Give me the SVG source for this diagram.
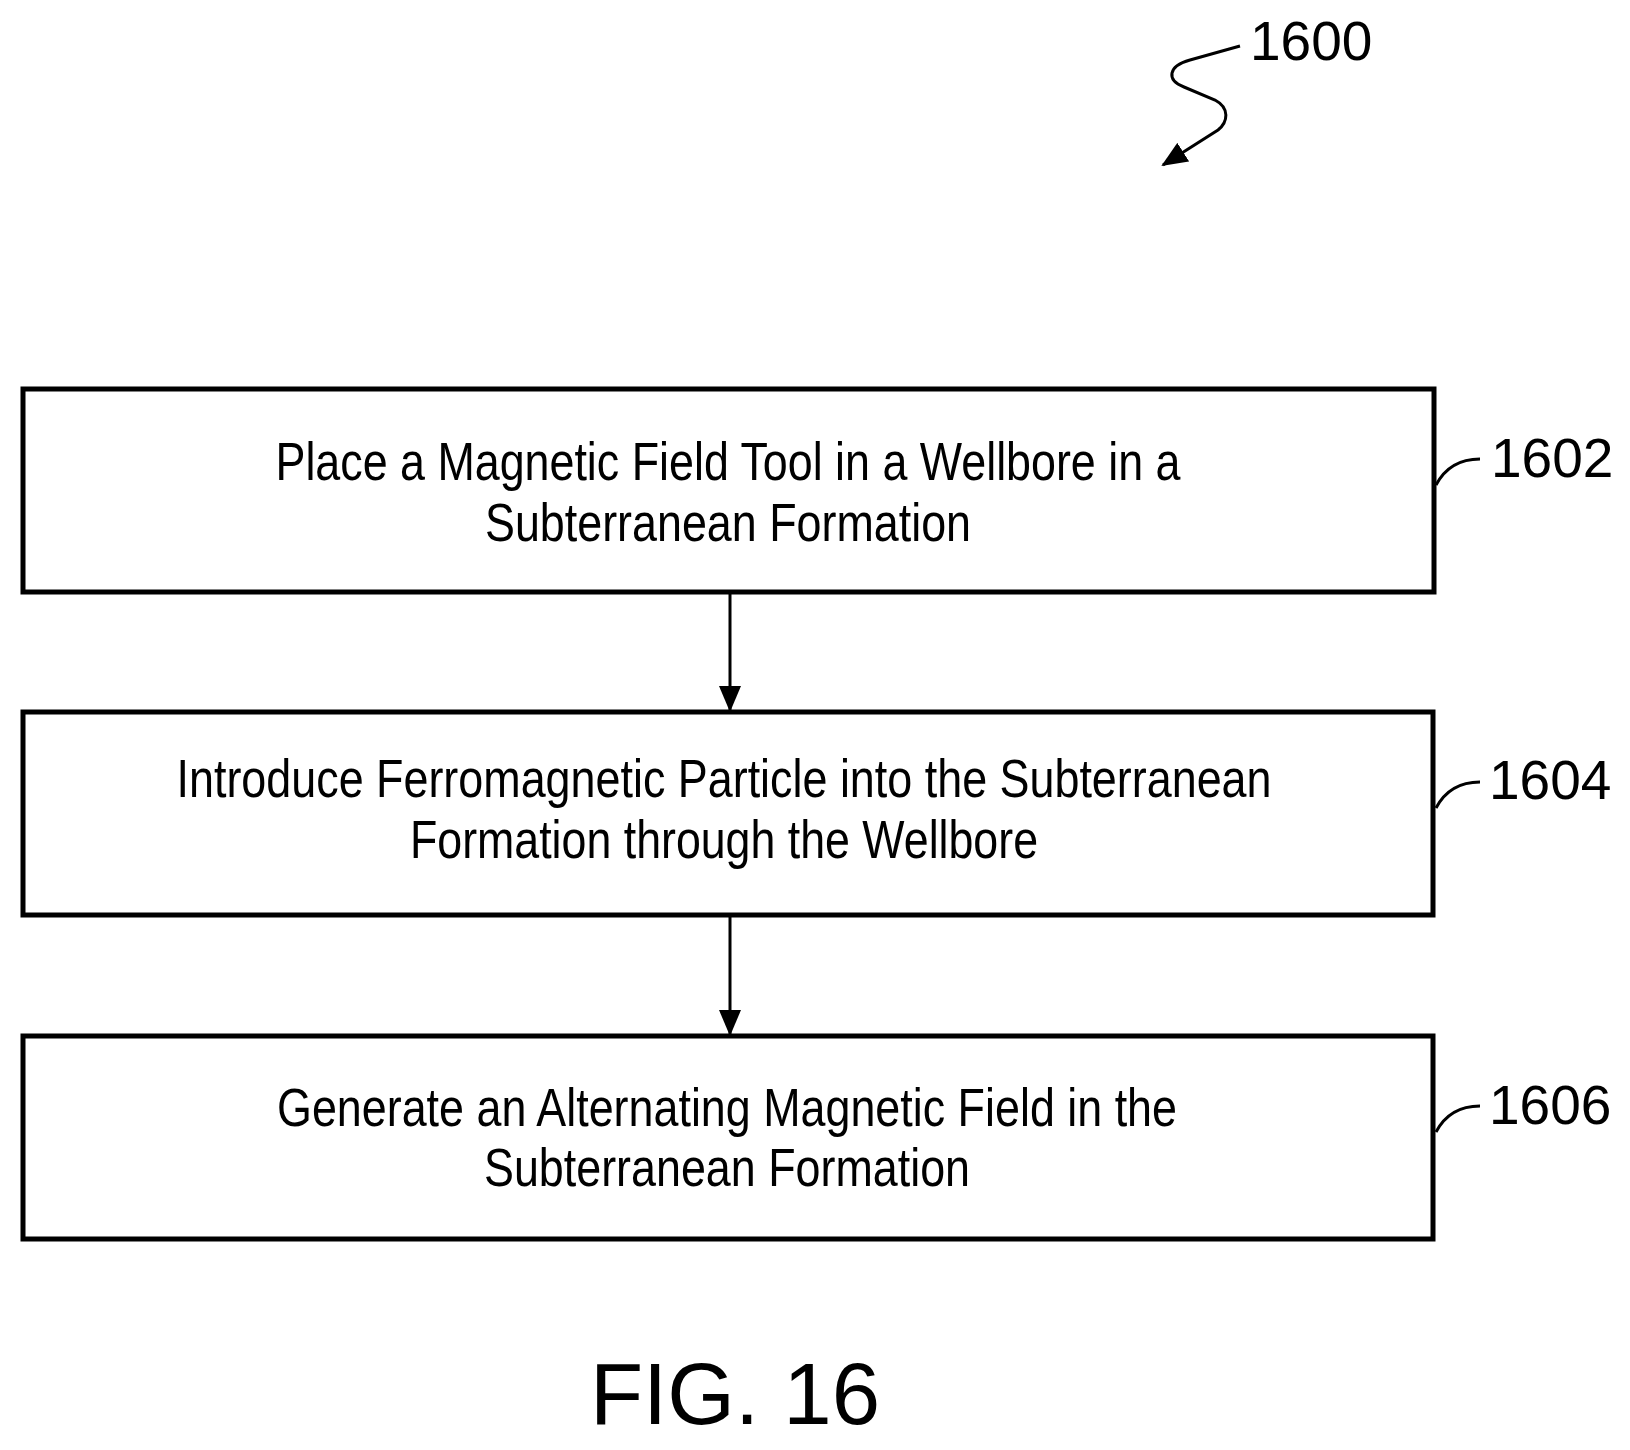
<svg xmlns="http://www.w3.org/2000/svg" width="1630" height="1450" viewBox="0 0 1630 1450">
<style>
.box{fill:#fff;stroke:#000;stroke-width:5}
.t{font-family:"Liberation Sans",Arial,sans-serif;font-size:54px;fill:#000;text-anchor:middle}
.lb{font-family:"Liberation Sans",Arial,sans-serif;font-size:55px;fill:#000}
.c{fill:none;stroke:#000;stroke-width:3}
</style>
<defs><marker id="ah2" markerWidth="26" markerHeight="22" refX="24" refY="11" orient="auto" markerUnits="userSpaceOnUse" viewBox="0 0 26 22"><path d="M0,0 L26,11 L0,22 z" fill="#000"/></marker></defs>
<g id="n1602"><rect class="box" x="23" y="389" width="1411" height="203"/>
<text class="t" x="728" y="480" textLength="905" lengthAdjust="spacingAndGlyphs">Place a Magnetic Field Tool in a Wellbore in a</text>
<text class="t" x="728" y="541" textLength="486" lengthAdjust="spacingAndGlyphs">Subterranean Formation</text>
<text class="lb" x="1491" y="477">1602</text></g>
<g id="n1604"><rect class="box" x="23" y="712" width="1410" height="203"/>
<text class="t" x="724" y="797" textLength="1095" lengthAdjust="spacingAndGlyphs">Introduce Ferromagnetic Particle into the Subterranean</text>
<text class="t" x="724" y="858" textLength="628" lengthAdjust="spacingAndGlyphs">Formation through the Wellbore</text>
<text class="lb" x="1489" y="799">1604</text></g>
<g id="n1606"><rect class="box" x="23" y="1036" width="1410" height="203"/>
<text class="t" x="727" y="1126" textLength="900" lengthAdjust="spacingAndGlyphs">Generate an Alternating Magnetic Field in the</text>
<text class="t" x="727" y="1186" textLength="486" lengthAdjust="spacingAndGlyphs">Subterranean Formation</text>
<text class="lb" x="1489" y="1124">1606</text></g>
<g id="title"><text class="lb" x="1250" y="60">1600</text>
<text x="735" y="1424" style="font-family:'Liberation Sans',Arial,sans-serif;font-size:87px;text-anchor:middle">FIG. 16</text></g>
<g id="connectors">
<path class="c" d="M730,594 V710" marker-end="url(#ah2)"/>
<path class="c" d="M730,917 V1034" marker-end="url(#ah2)"/>
<path class="c" d="M1240,46 L1190,60 C1168,66 1166,80 1184,87 L1215,100 C1230,108 1228,122 1218,130 L1163,165" marker-end="url(#ah2)"/>
<path class="c" d="M1436,485 C1445,468 1460,459 1480,459"/>
<path class="c" d="M1436,808 C1445,791 1460,782 1480,782"/>
<path class="c" d="M1436,1132 C1445,1115 1460,1106 1480,1106"/>
</g>
</svg>
